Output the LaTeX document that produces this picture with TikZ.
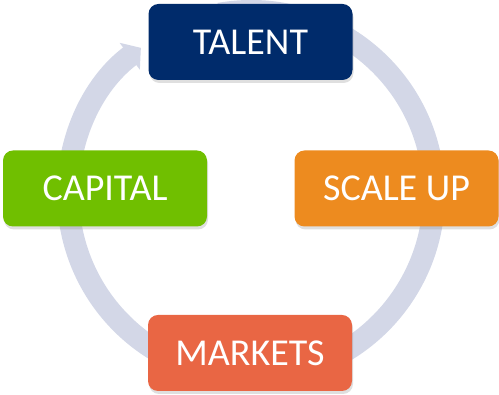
\documentclass[tikz,border=0pt]{standalone}
\usepackage{fontspec}
\setmainfont{Carlito}
\usetikzlibrary{arrows.meta,shadows}

\definecolor{navy}{RGB}{0,43,107}
\definecolor{leaf}{RGB}{112,191,0}
\definecolor{tangerine}{RGB}{237,139,31}
\definecolor{coral}{RGB}{233,102,68}
\definecolor{ringgray}{RGB}{211,215,231}

\begin{document}
\begin{tikzpicture}[x=1pt,y=1pt,
  box/.style={rounded corners=10pt, minimum width=204pt, minimum height=76pt,
    text=white, font=\fontsize{38}{42}\selectfont,
    drop shadow={opacity=0.25, shadow xshift=1pt, shadow yshift=-3pt}}]

\useasboundingbox (0,0) rectangle (499,395);
\def\R{183}
\coordinate (hub) at (251,201);

% Ring with arrow
  \draw[ringgray, line width=22pt, -{Triangle[width=33pt,length=14pt]}]
    (hub) ++(100:\R) arc[start angle=100, end angle=-233, radius=\R];

% Boxes
  \node[box, fill=navy] (talent) at (250.5,353) {TALENT};
  \node[box, fill=leaf] (capital) at (105,206.5) {CAPITAL};
  \node[box, fill=tangerine] (scaleup) at (396.5,206.5) {SCALE UP};
  \node[box, fill=coral] (markets) at (250,42) {MARKETS};
\end{tikzpicture}
\end{document}
